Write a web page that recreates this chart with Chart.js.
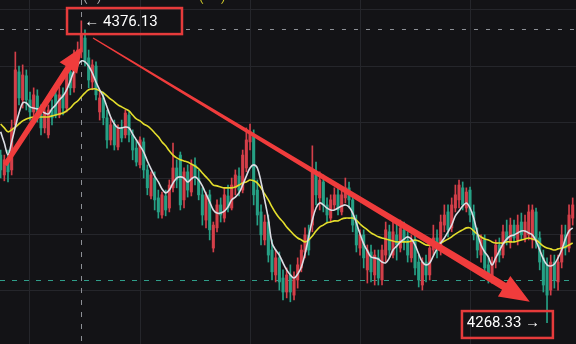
<!DOCTYPE html>
<html><head><meta charset="utf-8">
<script src="https://cdn.jsdelivr.net/npm/chart.js@4.4.1/dist/chart.umd.min.js"></script>
<style>html,body{margin:0;padding:0;background:#131316;overflow:hidden}canvas{display:block}</style>
</head><body><canvas id="c" width="576" height="344"></canvas>
<script>
// ---- data (prices) ----
const firstBar = 22;
const open = [
4328.2,4321.1,4326.5,4322.9,4339.0,4357.9,4347.9,4356.5,4347.9,4343.6,
4349.3,4342.9,4337.9,4335.4,4344.3,4349.7,4342.5,4349.7,4345.0,4357.9,
4352.2,4361.5,4365.0,4370.0,4362.9,4354.3,4360.0,4343.6,4348.6,4341.5,
4333.6,4339.0,4331.1,4337.9,4335.4,4342.5,4335.4,4330.7,4324.7,4332.9,
4322.9,4313.6,4320.0,4312.9,4306.8,4313.6,4309.3,4316.5,4323.6,4328.2,
4312.2,4322.2,4315.0,4324.7,4320.0,4314.0,4305.0,4314.0,4295.0,4302.2,
4310.4,4305.7,4313.6,4309.3,4316.5,4320.7,4315.7,4323.6,4332.9,4335.4,
4315.7,4307.9,4297.9,4304.3,4294.3,4285.4,4291.5,4284.3,4279.3,4285.4,
4278.2,4283.6,4287.9,4293.6,4299.7,4303.2,4322.2,4312.9,4318.6,4310.4,
4305.7,4310.4,4314.0,4307.9,4312.9,4316.5,4312.2,4304.3,4295.0,4299.7,
4287.2,4293.6,4285.4,4291.5,4283.6,4292.5,4300.8,4292.5,4299.7,4295.0,
4301.5,4297.9,4291.5,4297.9,4290.0,4281.8,4290.0,4285.4,4294.3,4298.6,
4294.3,4303.2,4307.9,4302.2,4309.3,4312.2,4316.5,4309.3,4315.7,4307.9,
4299.7,4292.5,4297.9,4289.0,4283.6,4290.0,4296.1,4292.5,4300.8,4297.2,
4303.2,4297.9,4304.3,4298.6,4299.7,4297.9,4307.9,4298.6,4291.5,4289.0,
4280.0,4290.0,4282.9,4290.0,4299.7,4295.0,4305.7];
const close = [
4322.9,4326.5,4322.2,4337.9,4358.6,4348.6,4356.8,4347.9,4343.6,4349.7,
4342.5,4337.9,4343.6,4344.3,4341.5,4342.5,4349.7,4345.0,4358.6,4352.2,
4364.0,4365.7,4371.1,4361.5,4355.0,4360.4,4349.7,4348.6,4341.5,4333.6,
4339.0,4331.8,4337.9,4334.3,4343.2,4335.4,4330.0,4325.7,4333.6,4322.9,
4316.5,4321.1,4312.2,4307.9,4314.0,4308.6,4317.5,4323.6,4319.3,4310.4,
4322.2,4315.7,4324.7,4320.0,4314.0,4306.8,4314.0,4301.5,4303.2,4310.4,
4306.8,4314.0,4309.3,4317.5,4321.1,4315.7,4328.2,4333.6,4336.5,4314.0,
4306.8,4299.7,4304.3,4292.5,4286.5,4291.5,4282.9,4279.3,4285.4,4279.3,
4284.3,4289.0,4294.3,4299.7,4294.3,4322.9,4314.0,4319.3,4310.4,4306.8,
4312.2,4314.0,4308.6,4314.0,4316.5,4312.2,4303.2,4296.1,4299.7,4291.5,
4294.3,4286.5,4292.5,4284.3,4294.3,4301.5,4294.3,4300.8,4296.1,4302.2,
4297.2,4292.5,4297.9,4287.9,4283.6,4290.0,4285.4,4295.0,4298.6,4294.3,
4304.3,4306.8,4301.5,4310.4,4314.0,4317.5,4310.4,4315.0,4306.8,4299.7,
4294.3,4297.9,4287.9,4284.3,4290.0,4296.1,4292.5,4300.8,4297.9,4303.2,
4298.6,4303.2,4299.7,4304.3,4307.9,4308.6,4297.9,4290.0,4281.8,4278.2,
4290.0,4283.6,4290.0,4299.7,4295.0,4306.8,4310.4];
const high = [
4330.0,4328.2,4330.0,4340.7,4365.0,4360.0,4360.4,4358.6,4350.7,4352.2,
4351.5,4346.1,4345.0,4346.1,4347.9,4352.2,4352.5,4352.2,4360.0,4360.4,
4365.7,4368.6,4376.13,4372.9,4365.7,4362.2,4361.5,4350.7,4350.7,4344.3,
4341.5,4340.7,4339.0,4340.7,4344.3,4343.6,4337.2,4333.6,4334.7,4334.3,
4324.7,4322.2,4322.2,4315.7,4315.0,4315.7,4319.3,4332.5,4326.5,4329.3,
4323.6,4324.7,4326.5,4327.2,4322.9,4316.5,4315.0,4315.7,4304.3,4312.2,
4312.9,4316.5,4317.5,4320.0,4322.9,4323.6,4330.0,4337.9,4339.3,4337.2,
4319.3,4310.4,4306.8,4306.8,4297.9,4294.3,4293.6,4287.2,4287.9,4289.0,
4286.5,4291.5,4296.1,4302.2,4303.2,4331.5,4325.7,4322.2,4321.1,4312.9,
4314.0,4316.5,4317.5,4316.5,4320.0,4318.6,4314.0,4306.8,4301.5,4301.5,
4296.1,4296.1,4294.3,4294.3,4296.1,4304.3,4303.2,4305.7,4305.0,4305.0,
4304.3,4300.8,4299.7,4299.7,4292.5,4291.5,4292.5,4297.2,4303.2,4301.5,
4306.8,4310.4,4310.4,4312.9,4317.5,4319.3,4318.6,4316.5,4316.8,4310.4,
4302.2,4299.7,4299.7,4291.5,4291.8,4297.9,4298.6,4303.2,4305.0,4305.7,
4305.0,4306.8,4307.5,4306.8,4310.4,4310.4,4309.3,4300.8,4294.3,4291.5,
4292.5,4292.5,4292.5,4303.2,4303.2,4310.4,4312.9];
const low = [
4320.0,4319.0,4318.6,4321.1,4337.9,4346.1,4345.0,4344.3,4340.7,4341.5,
4340.0,4335.4,4336.1,4334.3,4339.0,4341.5,4341.5,4342.5,4343.6,4349.7,
4350.7,4360.0,4362.9,4360.0,4352.2,4351.5,4347.9,4340.7,4339.0,4330.7,
4331.8,4330.0,4330.0,4332.9,4334.3,4332.9,4326.5,4324.3,4323.6,4320.0,
4314.0,4312.5,4308.6,4305.7,4305.7,4306.5,4307.9,4315.0,4316.5,4308.6,
4309.3,4313.2,4313.6,4317.5,4312.2,4303.2,4302.2,4297.9,4293.6,4300.8,
4304.3,4304.3,4307.9,4308.6,4314.0,4313.6,4314.7,4322.2,4330.0,4310.4,
4303.2,4296.1,4296.1,4290.0,4283.6,4282.9,4280.0,4276.5,4277.2,4275.8,
4276.5,4280.7,4286.5,4291.5,4292.5,4300.8,4310.4,4308.6,4307.9,4304.3,
4304.3,4308.6,4306.8,4306.8,4311.1,4309.3,4300.8,4293.6,4292.5,4287.9,
4282.5,4282.9,4281.8,4281.8,4281.8,4290.0,4291.5,4291.5,4290.7,4293.6,
4294.3,4290.0,4290.0,4285.4,4281.1,4280.0,4282.9,4283.6,4292.5,4291.5,
4292.5,4300.8,4299.0,4300.8,4307.9,4309.3,4308.6,4307.9,4304.3,4297.9,
4291.5,4290.0,4284.7,4282.5,4282.5,4287.9,4290.0,4291.5,4296.1,4295.0,
4297.2,4296.1,4297.9,4297.2,4297.9,4295.0,4295.0,4287.2,4279.3,4268.33,
4278.2,4280.7,4280.0,4287.9,4292.5,4293.6,4303.2];
const maWhite = [
4336.5,4332.5,4328.2,4332.9,4338.2,4343.2,4346.8,4346.8,4345.4,4345.0,
4344.7,4344.3,4343.2,4342.9,4344.7,4346.1,4347.9,4349.3,4351.5,4354.7,
4358.2,4360.4,4361.8,4361.5,4360.0,4357.5,4354.3,4351.5,4349.0,4345.4,
4341.8,4339.3,4337.9,4337.9,4338.2,4337.9,4335.7,4333.6,4331.5,4329.3,
4326.1,4323.3,4320.7,4318.6,4316.1,4314.7,4315.7,4318.2,4320.0,4320.4,
4320.0,4318.6,4319.7,4320.4,4319.3,4317.2,4314.3,4311.5,4308.6,4307.5,
4307.5,4308.2,4309.7,4312.2,4313.2,4314.7,4317.5,4320.7,4323.6,4324.7,
4323.6,4318.6,4312.2,4305.4,4296.8,4294.3,4292.5,4289.7,4287.2,4285.4,
4284.3,4285.7,4288.2,4292.9,4299.0,4305.0,4309.3,4311.1,4310.4,4309.3,
4308.6,4308.6,4309.3,4310.0,4310.4,4309.7,4307.5,4304.0,4300.0,4296.5,
4294.0,4291.8,4291.5,4291.1,4290.0,4289.7,4291.5,4294.3,4295.7,4297.2,
4298.2,4299.0,4298.2,4296.1,4292.9,4290.0,4289.0,4289.7,4292.2,4294.7,
4296.8,4298.6,4300.8,4303.2,4306.5,4308.2,4310.0,4311.1,4309.3,4305.7,
4300.4,4296.1,4293.6,4291.8,4289.0,4291.5,4294.0,4296.5,4298.2,4299.3,
4299.7,4300.4,4301.1,4301.1,4300.4,4299.7,4297.5,4294.3,4291.1,4289.0,
4288.6,4289.3,4291.5,4294.3,4298.2,4301.1,4302.2];
const maYellow = [
4339.3,4337.9,4336.5,4337.2,4338.2,4339.3,4340.4,4341.1,4341.5,4341.8,
4341.8,4341.8,4341.8,4341.8,4342.2,4342.5,4342.9,4343.2,4344.0,4345.0,
4346.5,4347.5,4349.0,4350.4,4351.5,4351.8,4351.8,4351.1,4350.4,4349.3,
4348.2,4347.2,4346.1,4345.4,4344.7,4344.0,4342.5,4341.1,4340.4,4339.3,
4338.6,4337.5,4336.1,4334.7,4332.9,4331.5,4329.7,4328.2,4327.2,4326.5,
4326.1,4325.7,4325.0,4324.3,4323.3,4321.8,4320.4,4319.0,4317.5,4317.2,
4316.8,4316.5,4316.5,4316.5,4316.8,4317.5,4318.2,4318.6,4319.3,4319.0,
4318.2,4316.5,4314.3,4312.2,4309.7,4307.5,4305.7,4304.3,4302.5,4301.1,
4299.7,4298.6,4297.9,4297.2,4297.9,4299.3,4301.1,4302.5,4303.2,4304.0,
4304.3,4304.7,4304.7,4305.4,4305.7,4305.7,4305.7,4305.0,4303.6,4302.5,
4301.5,4300.4,4299.7,4299.0,4298.6,4298.2,4297.9,4297.5,4297.2,4297.2,
4297.2,4297.2,4297.5,4297.9,4297.5,4296.8,4296.1,4296.1,4296.5,4296.5,
4296.8,4297.5,4298.2,4299.0,4300.0,4300.8,4301.5,4302.2,4302.2,4301.1,
4300.0,4299.0,4298.2,4297.9,4297.2,4296.8,4296.8,4296.8,4297.2,4297.2,
4297.2,4297.5,4297.9,4298.2,4298.6,4298.2,4297.9,4296.8,4295.7,4295.0,
4294.7,4294.3,4294.7,4295.0,4295.4,4296.1,4296.8];

const peakBar = 44, peakHigh = 4376.13;
const troughBar = 171, troughLow = 4268.33;
const highLabel = '← 4376.13', lowLabel = '4268.33 →';
const crossPrice = 4373.2;     // grey dashed price line
const supportPrice = 4283.6;   // teal dashed price line
const xView = [21.82, 178.9];
const yView = [4260.74, 4383.57];
const gridBars = 30, gridPrice = 20;

// hand-drawn markup (in bar / price units)
const arrowUp = { from: [23.2, 4324.7], to: [44.2, 4366.8] };
const arrowDown = { from: [47.2, 4370.0], to: [166.3, 4275.8] };
const boxHigh = { x: [40.1, 71.45], y: [4371.4, 4380.7] };
const boxLow = { x: [147.8, 172.6], y: [4262.9, 4272.5] };

// ---- build ----
const bars = open.map((_, i) => firstBar + i);
const UP = '#d43f49', DOWN = '#26a085';
const colors = bars.map((_, i) => close[i] >= open[i] ? UP : DOWN);
const BG = '#131316', GRID = '#25262b', MARK = '#f03c3c';

function tapered(ctx, x0, y0, x1, y1, w0, w1, headLen, headW) {
  const dx = x1 - x0, dy = y1 - y0, L = Math.hypot(dx, dy);
  const ux = dx / L, uy = dy / L, nx = -uy, ny = ux;
  const bx = x1 - ux * headLen, by = y1 - uy * headLen;
  ctx.beginPath();
  ctx.moveTo(x0 + nx * w0 / 2, y0 + ny * w0 / 2);
  ctx.lineTo(bx + nx * w1 / 2, by + ny * w1 / 2);
  ctx.lineTo(bx + nx * headW / 2, by + ny * headW / 2);
  ctx.lineTo(x1, y1);
  ctx.lineTo(bx - nx * headW / 2, by - ny * headW / 2);
  ctx.lineTo(bx - nx * w1 / 2, by - ny * w1 / 2);
  ctx.lineTo(x0 - nx * w0 / 2, y0 - ny * w0 / 2);
  ctx.closePath();
  ctx.fill();
}

const overlay = {
  id: 'overlay',
  beforeDraw(chart) {
    const c = chart.ctx;
    c.save(); c.fillStyle = BG; c.fillRect(0, 0, chart.width, chart.height); c.restore();
  },
  beforeDatasetsDraw(chart) {
    const { ctx, scales: { x, y }, chartArea: a } = chart;
    ctx.save();
    ctx.lineWidth = 1;
    ctx.strokeStyle = '#8d9096';
    ctx.setLineDash([5, 7]);
    const px = Math.round(x.getPixelForValue(peakBar)) + 0.5;
    ctx.beginPath(); ctx.moveTo(px, a.top); ctx.lineTo(px, a.bottom); ctx.stroke();
    ctx.setLineDash([4, 8]);
    const hy = Math.round(y.getPixelForValue(crossPrice)) + 0.5;
    const bl = x.getPixelForValue(boxHigh.x[0]), br = x.getPixelForValue(boxHigh.x[1]);
    ctx.beginPath(); ctx.moveTo(a.left, hy); ctx.lineTo(bl, hy);
    ctx.moveTo(br + 4, hy); ctx.lineTo(a.right, hy); ctx.stroke();
    ctx.strokeStyle = '#2f9e8a';
    ctx.setLineDash([5, 7]);
    const sy = Math.round(y.getPixelForValue(supportPrice)) + 0.5;
    ctx.beginPath(); ctx.moveTo(a.left, sy); ctx.lineTo(a.right, sy); ctx.stroke();
    ctx.restore();
  },
  afterDraw(chart) {
    const { ctx, scales: { x, y }, chartArea: a } = chart;
    ctx.save();
    // cut-off legend text at top
    ctx.font = '13px Roboto';
    ctx.textBaseline = 'alphabetic';
    ctx.fillStyle = '#b5b5b8';
    ctx.fillText('(', a.left + 83, a.top + 1);
    ctx.fillText(')', a.left + 97, a.top + 1);
    ctx.fillStyle = '#d6d02a';
    ctx.fillText('(', a.left + 199, a.top + 1);
    ctx.fillText(')', a.left + 221, a.top + 1);
    // arrows
    ctx.fillStyle = MARK;
    tapered(ctx, x.getPixelForValue(arrowDown.from[0]), y.getPixelForValue(arrowDown.from[1]),
      x.getPixelForValue(arrowDown.to[0]), y.getPixelForValue(arrowDown.to[1]), 1.4, 8, 30, 24);
    tapered(ctx, x.getPixelForValue(arrowUp.from[0]), y.getPixelForValue(arrowUp.from[1]),
      x.getPixelForValue(arrowUp.to[0]), y.getPixelForValue(arrowUp.to[1]), 5, 6.5, 25, 21);
    // boxes
    ctx.strokeStyle = '#e63b3b';
    ctx.lineWidth = 2.5;
    [boxHigh, boxLow].forEach(b => {
      const x0 = x.getPixelForValue(b.x[0]), x1 = x.getPixelForValue(b.x[1]);
      const y0 = y.getPixelForValue(b.y[1]), y1 = y.getPixelForValue(b.y[0]);
      ctx.strokeRect(x0, y0, x1 - x0, y1 - y0);
    });
    // labels
    ctx.fillStyle = '#ffffff';
    ctx.font = '15px Roboto';
    ctx.textBaseline = 'middle';
    ctx.textAlign = 'left';
    ctx.fillText(highLabel, x.getPixelForValue(peakBar) + 3, y.getPixelForValue(peakHigh) + 1);
    ctx.textAlign = 'right';
    ctx.fillText(lowLabel, x.getPixelForValue(troughBar) - 7, y.getPixelForValue(troughLow) + 1);
    ctx.restore();
  }
};

new Chart(document.getElementById('c'), {
  type: 'bar',
  data: {
    datasets: [
      { type: 'line', label: 'MA short', data: bars.map((b, i) => ({ x: b, y: maWhite[i] })),
        borderColor: '#dcdde4', borderWidth: 1.6, pointRadius: 0, tension: 0.35, order: 0 },
      { type: 'line', label: 'MA long', data: bars.map((b, i) => ({ x: b, y: maYellow[i] })),
        borderColor: '#e4de2c', borderWidth: 1.6, pointRadius: 0, tension: 0.35, order: 1 },
      { label: 'body', data: bars.map((b, i) => ({ x: b, y: [open[i], close[i]] })),
        backgroundColor: colors, barThickness: 2.4, minBarLength: 1, grouped: false, order: 2 },
      { label: 'wick', data: bars.map((b, i) => ({ x: b, y: [low[i], high[i]] })),
        backgroundColor: colors, barThickness: 1, grouped: false, order: 3 }
    ]
  },
  options: {
    responsive: false, animation: false, devicePixelRatio: 1,
    layout: { padding: 0 },
    plugins: { legend: { display: false }, tooltip: { enabled: false } },
    scales: {
      x: { type: 'linear', min: xView[0], max: xView[1], offset: false,
        grid: { color: GRID, drawTicks: false, offset: false },
        border: { display: false },
        ticks: { display: false, stepSize: gridBars, includeBounds: false } },
      y: { type: 'linear', min: yView[0], max: yView[1],
        grid: { color: GRID, drawTicks: false },
        border: { display: false },
        ticks: { display: false, stepSize: gridPrice, includeBounds: false } }
    }
  },
  plugins: [overlay]
});
</script>
</body></html>
